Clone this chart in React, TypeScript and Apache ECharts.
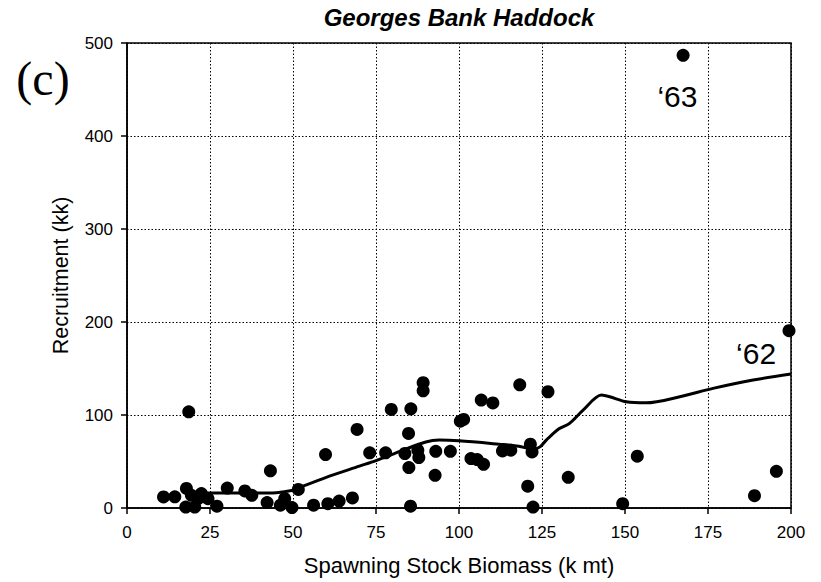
import React, { useEffect, useRef } from "react";
import * as echarts from "echarts";

// Spawning stock biomass (k mt), recruitment (kk)
const observations: [number, number][] = [
  [11.0, 11.9], [14.4, 12], [17.9, 21], [17.7, 1], [20.4, 1], [19.4, 13.7],
  [22.4, 15.5], [21.4, 10], [24.4, 10], [18.6, 103.4], [27.1, 2], [30.2, 21.5],
  [35.5, 18.3], [37.6, 13.7], [43.2, 40], [42.2, 5.8], [46.2, 3], [47.5, 10],
  [49.7, 0.5], [51.6, 20], [56.2, 3], [60.5, 4.7], [63.9, 7.5], [67.9, 10.8],
  [59.8, 57.5], [69.3, 84.5], [73.1, 59.3], [77.9, 59.3], [79.6, 106], [85.5, 106.7],
  [84.8, 80.2], [83.7, 58.6], [87.6, 62.2], [87.9, 54.3], [84.9, 43.5], [85.4, 2],
  [89.2, 134.7], [89.2, 126], [93, 61], [97.4, 61], [92.8, 35.2], [100.4, 93.4],
  [101.4, 95.2], [103.6, 53.2], [105.5, 52.1], [107.4, 47], [106.7, 116], [110.2, 113],
  [113.1, 61.4], [115.6, 62.2], [118.3, 132.5], [121.5, 68.6], [122, 60.3], [120.7, 23.4],
  [122.3, 1], [126.8, 125], [132.9, 33], [149.3, 4.7], [153.7, 55.7], [189, 13.3],
  [195.6, 39.5], [199.4, 190.7], [167.5, 486.7],
];

// Smoothed fit curve
const fitCurve: [number, number][] = [
  [18, 15.5], [25, 16], [35, 16], [45, 16.5], [50, 19], [52, 22], [60, 33], [70, 45],
  [75, 51], [83, 62], [90, 71], [94, 73], [100, 72.2], [112, 68.6], [118, 66.5],
  [122.5, 63], [124.5, 66], [126.3, 73], [130, 85], [133.3, 91], [137.3, 105],
  [142.9, 121.4], [145.4, 119.6], [150.4, 114.2], [156.4, 113.1], [166.5, 119.6],
  [176.5, 128.6], [188.6, 137.6], [200, 144],
];

const yearLabels: { text: string; at: [number, number] }[] = [
  { text: "\u201863", at: [165.8, 442] },
  { text: "\u201862", at: [189.5, 166] },
];

const xTicks = [0, 25, 50, 75, 100, 125, 150, 175, 200];
const yTicks = [0, 100, 200, 300, 400, 500];

const SANS = "'Liberation Sans', Arial, sans-serif";

export default function App() {
  const ref = useRef<HTMLDivElement>(null);
  useEffect(() => {
    if (!ref.current) return;
    const chart = echarts.init(ref.current, null, { renderer: "svg" });
    chart.setOption({
      animation: false,
      backgroundColor: "#fff",
      grid: {
        left: 127,
        right: 30,
        top: 43,
        bottom: 74,
        show: true,
        borderColor: "#000",
        borderWidth: 1.5,
        backgroundColor: "transparent",
      },
      graphic: [
        {
          type: "text",
          x: 459,
          y: 5,
          style: {
            text: "Georges Bank Haddock",
            fontFamily: SANS,
            fontSize: 24,
            fontWeight: "bold",
            fontStyle: "italic",
            fill: "#000",
            textAlign: "center",
            textVerticalAlign: "top",
          },
        },
        {
          type: "text",
          x: 43,
          y: 78,
          style: {
            text: "(c)",
            fontFamily: "'Liberation Serif', 'Times New Roman', serif",
            fontSize: 48,
            fill: "#000",
            textAlign: "center",
            textVerticalAlign: "middle",
          },
        },
      ],
      xAxis: {
        type: "value",
        min: xTicks[0],
        max: xTicks[xTicks.length - 1],
        interval: 25,
        name: "Spawning Stock Biomass (k mt)",
        nameLocation: "middle",
        nameGap: 46,
        nameTextStyle: { fontFamily: SANS, fontSize: 22, color: "#000" },
        axisLine: { show: true, onZero: false, lineStyle: { color: "#000", width: 1.5 } },
        axisTick: { show: true, inside: false, length: 6, lineStyle: { color: "#000", width: 1.5 } },
        axisLabel: { fontFamily: SANS, fontSize: 17, color: "#000", margin: 16 },
        splitLine: { show: true, lineStyle: { color: "#000", type: [1.5, 2], width: 1 } },
      },
      yAxis: {
        type: "value",
        min: yTicks[0],
        max: yTicks[yTicks.length - 1],
        interval: 100,
        name: "Recruitment (kk)",
        nameLocation: "middle",
        nameGap: 55,
        nameTextStyle: { fontFamily: SANS, fontSize: 21.5, color: "#000" },
        axisLine: { show: true, onZero: false, lineStyle: { color: "#000", width: 1.5 } },
        axisTick: { show: true, inside: false, length: 6, lineStyle: { color: "#000", width: 1.5 } },
        axisLabel: { fontFamily: SANS, fontSize: 17, color: "#000", margin: 14 },
        splitLine: { show: true, lineStyle: { color: "#000", type: [1.5, 2], width: 1 } },
      },
      series: [
        {
          type: "line",
          data: fitCurve,
          showSymbol: false,
          smooth: 0.3,
          lineStyle: { color: "#000", width: 3 },
          z: 3,
        },
        {
          type: "scatter",
          data: observations,
          symbol: "circle",
          symbolSize: 13,
          itemStyle: { color: "#000", opacity: 1 },
          z: 4,
        },
        {
          type: "scatter",
          data: yearLabels.map((d) => ({ value: d.at, name: d.text })),
          symbolSize: 0,
          silent: true,
          itemStyle: { color: "#000", opacity: 1 },
          label: {
            show: true,
            position: "inside",
            formatter: (p: any) => p.name,
            fontFamily: SANS,
            fontSize: 30,
            color: "#000",
            opacity: 1,
          },
          z: 5,
        },
      ],
    });
    return () => chart.dispose();
  }, []);
  return (
    <div
      ref={ref}
      style={{ position: "fixed", left: 0, top: 0, width: 821, height: 582 }}
    />
  );
}
